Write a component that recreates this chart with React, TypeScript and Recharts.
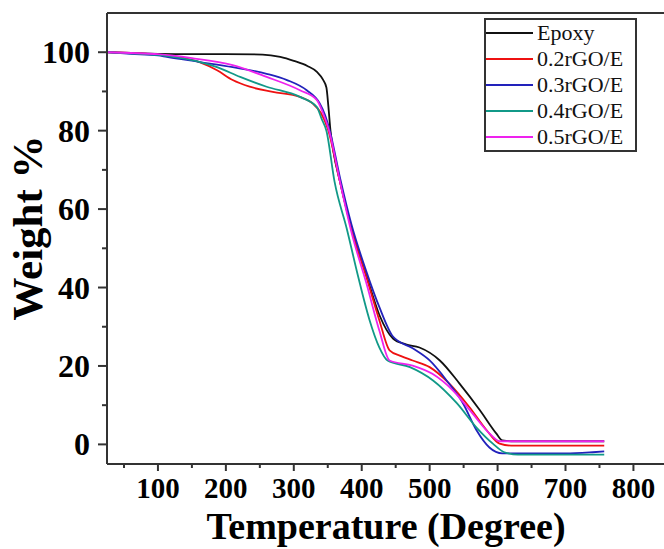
import React from "react";
import { LineChart, Line, XAxis, YAxis, Legend, ReferenceLine } from "recharts";

// Temperatures (°C) and weights (%)
const epoxyT = [25, 60, 100, 150, 200, 254, 280, 300, 320, 334, 343, 348, 351, 354, 358, 368, 385, 407, 426, 446, 465, 485, 515, 544, 574, 598, 607, 620, 700, 757];
const epoxyW = [100, 99.8, 99.6, 99.5, 99.5, 99.4, 98.8, 97.8, 96.5, 95, 93, 91, 86, 80, 75, 67, 55, 43, 33, 27, 25.5, 24.7, 21.4, 15.5, 8.7, 2.8, 1.0, 0.8, 0.8, 0.8];

const r02T = [25, 60, 100, 130, 162, 187, 210, 235, 269, 309, 328, 340, 350, 368, 385, 407, 426, 441, 458, 475, 500, 529, 559, 584, 603, 620, 700, 757];
const r02W = [100, 99.8, 99.4, 98.8, 97.4, 95.4, 92.9, 91.2, 89.9, 88.6, 86.9, 84.5, 80.5, 67, 55, 42.6, 31.6, 24, 22.5, 21.4, 19.7, 15.5, 9.4, 3.6, 0.2, -0.3, -0.3, -0.3];

const r03T = [25, 60, 100, 113, 162, 210, 260, 290, 319, 338, 346, 353, 368, 385, 407, 426, 446, 475, 500, 525, 549, 569, 588, 607, 650, 700, 740, 757];
const r03W = [100, 99.6, 99.2, 98.8, 97.5, 96.2, 94.5, 92.9, 90.3, 87, 84, 80, 68, 56, 44, 35, 27.5, 24.5, 21.4, 16.3, 10.5, 3.6, -0.8, -2.3, -2.3, -2.3, -2.0, -1.8];

const r04T = [25, 60, 100, 130, 162, 187, 221, 260, 309, 334, 341, 348, 360, 378, 395, 411, 426, 438, 471, 505, 540, 569, 593, 610, 630, 700, 757];
const r04W = [100, 99.7, 99.3, 98.6, 97.5, 96.2, 93.7, 91.2, 88.6, 86, 83, 80, 67, 55, 42.6, 32, 24.7, 21.4, 19.7, 16.3, 10.5, 4.3, 0.2, -2, -2.6, -2.6, -2.6];

const r05T = [25, 60, 100, 150, 210, 260, 309, 334, 343, 352, 368, 385, 407, 426, 441, 475, 504, 534, 563, 588, 603, 620, 700, 757];
const r05W = [100, 99.8, 99.5, 98.5, 96.7, 93.7, 90.3, 87.8, 84.5, 80, 67, 54, 41, 29, 21.4, 20.1, 18, 13.8, 7.9, 2.8, 0.8, 0.8, 0.8, 0.8];

const seriesNames = ["Epoxy", "0.2rGO/E", "0.3rGO/E", "0.4rGO/E", "0.5rGO/E"];
const seriesColors = ["#111111", "#ee1111", "#2222bb", "#119988", "#ee22ee"];

const xTicks = [50, 100, 150, 200, 250, 300, 350, 400, 450, 500, 550, 600, 650, 700, 750, 800];
const yTicks = [0, 10, 20, 30, 40, 50, 60, 70, 80, 90, 100];

const zip = (ts: number[], ws: number[]) => ts.map((t, i) => ({ t, w: ws[i] }));
const seriesData = [zip(epoxyT, epoxyW), zip(r02T, r02W), zip(r03T, r03W), zip(r04T, r04W), zip(r05T, r05W)];

const FONT = "'Liberation Serif', 'Times New Roman', serif";
const AX = "#333333";

const XTick = (props: any) => {
  const { x, y, payload } = props;
  const major = payload.value % 100 === 0;
  return (
    <g>
      <line x1={x} y1={y} x2={x} y2={y + (major ? 7 : 4)} stroke={AX} strokeWidth={2} />
      {major && (
        <text x={x} y={y + 34} textAnchor="middle" fontSize={29} fontWeight="bold" fontFamily={FONT} fill="#000">
          {payload.value}
        </text>
      )}
    </g>
  );
};

const YTick = (props: any) => {
  const { x, y, payload } = props;
  const major = payload.value % 20 === 0;
  return (
    <g>
      <line x1={x} y1={y} x2={x - (major ? 9 : 5)} y2={y} stroke={AX} strokeWidth={2} />
      {major && (
        <text x={x - 17} y={y + 11} textAnchor="end" fontSize={32} fontWeight="bold" fontFamily={FONT} fill="#000">
          {payload.value}
        </text>
      )}
    </g>
  );
};

const LegendBox = () => (
  <div
    style={{
      width: 153,
      height: 134,
      border: `2px solid ${AX}`,
      boxSizing: "border-box",
      background: "#fff",
      fontFamily: FONT,
      fontSize: 22,
      color: "#111",
      overflow: "hidden",
    }}
  >
    {seriesNames.map((name, i) => (
      <div key={name} style={{ display: "flex", alignItems: "center", height: 26, lineHeight: "26px" }}>
        <div style={{ width: 47, height: 2, background: seriesColors[i], flex: "none" }} />
        <span style={{ marginLeft: 4, whiteSpace: "nowrap" }}>{name}</span>
      </div>
    ))}
  </div>
);

export default function App() {
  return (
    <div style={{ position: "absolute", left: 0, top: 0, background: "#fff" }}>
      <LineChart width={664} height={549} margin={{ top: 13, right: 0, bottom: 0, left: 0 }}>
        <XAxis
          type="number"
          dataKey="t"
          domain={[25, 845]}
          ticks={xTicks}
          interval={0}
          allowDataOverflow
          height={85}
          tickSize={0}
          tickMargin={0}
          tickLine={false}
          axisLine={{ stroke: AX, strokeWidth: 2 }}
          tick={<XTick />}
          label={{
            content: () => (
              <text x={386} y={539} textAnchor="middle" fontSize={38} fontWeight="bold" fontFamily={FONT} fill="#000">
                Temperature (Degree)
              </text>
            ),
          }}
        />
        <YAxis
          type="number"
          domain={[-5, 110]}
          ticks={yTicks}
          interval={0}
          allowDataOverflow
          width={107}
          tickSize={0}
          tickMargin={0}
          tickLine={false}
          axisLine={{ stroke: AX, strokeWidth: 2 }}
          tick={<YTick />}
          label={{
            content: () => (
              <text x={42} y={228} transform="rotate(-90 42 228)" textAnchor="middle" fontSize={43} fontWeight="bold" fontFamily={FONT} fill="#000">
                Weight %
              </text>
            ),
          }}
        />
        <ReferenceLine y={110} stroke={AX} strokeWidth={2} ifOverflow="extendDomain" />
        {seriesData.map((d, i) => (
          <Line
            key={seriesNames[i]}
            data={d}
            dataKey="w"
            name={seriesNames[i]}
            type="monotone"
            stroke={seriesColors[i]}
            strokeWidth={1.8}
            dot={false}
            isAnimationActive={false}
          />
        ))}
        <Legend
          layout="vertical"
          align="center"
          verticalAlign="middle"
          content={<LegendBox />}
          wrapperStyle={{ left: 484, top: 18, width: 153, height: 134 }}
        />
      </LineChart>
    </div>
  );
}
